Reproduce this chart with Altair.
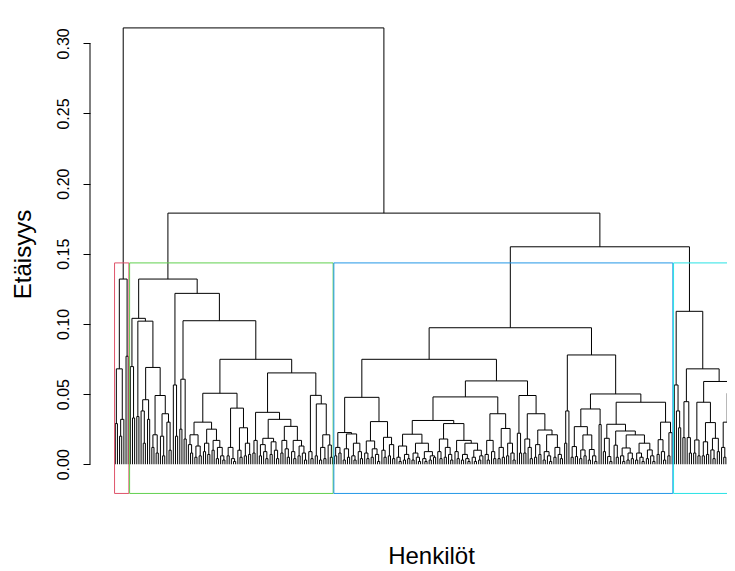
import sys
import altair as alt
import pandas as pd

sys.setrecursionlimit(10000)

# ---------------------------------------------------------------
# Data.
# A dendrogram with its leaves in drawing order is fully described by the
# merge height between every pair of neighbouring leaves (left -> right).
# ---------------------------------------------------------------
red_gaps = [0.029, 0.068, 0.020, 0.032, 0.132, 0.077]

green_gaps = [
    0.0696, 0.033, 0.104, 0.034, 0.102, 0.038, 0.015, 0.046, 0.032, 0.069,
    0.012, 0.021, 0.008, 0.049, 0.020, 0.006, 0.036, 0.030, 0.010,
    0.132,
    0.0565, 0.020,
    0.1218,
    0.025, 0.0606, 0.018,
    0.1023,
    0.014, 0.008, 0.021, 0.005, 0.013, 0.006,
    0.030,
    0.009, 0.015, 0.007, 0.025, 0.010, 0.017, 0.004, 0.012, 0.006, 0.003,
    0.0506,
    0.006, 0.012, 0.004, 0.002, 0.040, 0.010, 0.005, 0.026, 0.006, 0.015, 0.007,
    0.0748,
    0.008, 0.017,
    0.037,
    0.006, 0.014, 0.009, 0.004, 0.0185, 0.007, 0.016, 0.010, 0.004,
    0.032,
    0.008, 0.017, 0.011, 0.005, 0.027, 0.009, 0.004, 0.017, 0.006, 0.013, 0.008, 0.003,
    0.0651,
    0.009, 0.004, 0.0491, 0.006, 0.043, 0.003, 0.012, 0.004, 0.021, 0.0137, 0.005,
]

blue_gaps = [
    0.006, 0.012, 0.008,
    0.0226,
    0.003, 0.011, 0.005, 0.0216, 0.006, 0.003, 0.015, 0.009, 0.004,
    0.0477,
    0.008, 0.004, 0.0166, 0.005, 0.011, 0.007, 0.002,
    0.0304,
    0.010, 0.005, 0.0192, 0.006, 0.014, 0.004,
    0.0748,
    0.005, 0.002, 0.013, 0.003, 0.007, 0.004,
    0.0214,
    0.003, 0.008, 0.005, 0.002, 0.015, 0.004, 0.002, 0.009, 0.003, 0.006, 0.005,
    0.0312,
    0.009, 0.004, 0.018, 0.005, 0.012, 0.007, 0.003,
    0.029,
    0.009, 0.004,
    0.017,
    0.003, 0.007, 0.004, 0.002, 0.015, 0.005, 0.002, 0.010, 0.003, 0.006,
    0.048,
    0.007, 0.003, 0.017, 0.009, 0.004,
    0.036,
    0.004, 0.012, 0.005, 0.0255, 0.006, 0.015, 0.008, 0.003,
    0.0594,
    0.0221, 0.008,
    0.049,
    0.008, 0.018, 0.012, 0.004,
    0.036,
    0.005, 0.014, 0.007,
    0.0244,
    0.003, 0.009, 0.006, 0.002, 0.021, 0.005, 0.012, 0.007, 0.004,
    0.0973,
    0.015, 0.038,
    0.0779,
    0.005, 0.0126, 0.0055,
    0.0268,
    0.004, 0.0102, 0.006, 0.0209, 0.003, 0.0105, 0.006, 0.002,
    0.0394,
    0.0283,
    0.0501,
    0.009, 0.0185, 0.0055, 0.002,
    0.0285,
    0.0136, 0.005,
    0.0237,
    0.006, 0.002, 0.0116, 0.003, 0.008, 0.004,
    0.0209,
    0.003, 0.008, 0.005, 0.002, 0.015, 0.004, 0.0102, 0.006, 0.002,
    0.0442,
    0.007, 0.0175, 0.009, 0.003,
    0.030,
    0.006, 0.0225,
]

cyan_gaps = [
    0.0565, 0.038, 0.026,
    0.109,
    0.019, 0.0446, 0.019, 0.008,
    0.068,
    0.008, 0.0173, 0.006,
    0.0442,
    0.006, 0.016, 0.007,
    0.0297,
    0.0102, 0.004, 0.0185, 0.009,
    0.059,
    0.012, 0.005, 0.030, 0.007, 0.016, 0.006,
    0.0506,
    0.014, 0.006, 0.038, 0.008, 0.021,
]

# heights of the merges joining the four clusters
join_red_rest = 0.311
join_green_blue = 0.179
join_blue_cyan = 0.155

cluster_colors = ["#DF536B", "#61D04F", "#2297E6", "#28E2E5"]
y_ticks = [0.00, 0.05, 0.10, 0.15, 0.20, 0.25, 0.30]
x_title = "Henkilöt"
y_title = "Etäisyys"

# ---------------------------------------------------------------
# Build the dendrogram segments from the gap heights
# ---------------------------------------------------------------
gaps = (red_gaps + [join_red_rest] + green_gaps + [join_green_blue]
        + blue_gaps + [join_blue_cyan] + cyan_gaps)
n_leaves = len(gaps) + 1

segments = []


def build(lo, hi):
    if lo == hi:
        return float(lo), 0.0
    sub = gaps[lo:hi]
    k = lo + sub.index(max(sub))
    lx, lh = build(lo, k)
    rx, rh = build(k + 1, hi)
    h = gaps[k]
    segments.append({"x": lx, "x2": rx, "y": h, "y2": h})
    segments.append({"x": lx, "x2": lx, "y": lh, "y2": h})
    segments.append({"x": rx, "x2": rx, "y": rh, "y2": h})
    return (lx + rx) / 2.0, h


build(0, n_leaves - 1)
seg_df = pd.DataFrame(segments)

# cluster boxes (as rect.hclust: k = 4)
sizes = [len(red_gaps) + 1, len(green_gaps) + 1, len(blue_gaps) + 1, len(cyan_gaps) + 1]
top4 = sorted(gaps, reverse=True)
cut = (top4[2] + top4[3]) / 2.0

# layout of the plotting region (R style)
leaf_px = 2.15
plot_w = 637
plot_h = 471
x_lo = -0.04 * (n_leaves - 1)
x_hi = x_lo + plot_w / leaf_px
y_lo = -0.0212
y_hi = 0.3145

rows = []
start = 0
for size, col in zip(sizes, cluster_colors):
    end = start + size - 1
    rows.append({"x": start - 0.34, "x2": end + 0.33, "y": y_lo + 0.0004,
                 "y2": cut, "col": col})
    start = end + 1
rect_df = pd.DataFrame(rows)

axis_df = pd.DataFrame({"y": [y_ticks[0]], "y2": [y_ticks[-1]]})

FONT = "Liberation Sans"

x_enc = alt.X(
    "x:Q",
    scale=alt.Scale(domain=[x_lo, x_hi], nice=False, zero=False),
    axis=alt.Axis(
        title=x_title, labels=False, ticks=False, domain=False, grid=False,
        titleFont=FONT, titleFontSize=24, titleFontWeight="normal",
        titleColor="#000000", titleBaseline="alphabetic", titleAlign="center",
        titleX=341, titleY=69,
    ),
)
y_enc = alt.Y(
    "y:Q",
    scale=alt.Scale(domain=[y_lo, y_hi], nice=False, zero=False),
    axis=alt.Axis(
        title=y_title, values=y_ticks, format=".2f", grid=False, domain=False,
        tickSize=7, tickColor="#000000", tickWidth=1,
        labelFont=FONT, labelFontSize=16, labelColor="#000000",
        labelAngle=270, labelAlign="center", labelBaseline="alphabetic",
        labelPadding=15,
        titleFont=FONT, titleFontSize=24, titleFontWeight="normal",
        titleColor="#000000", titleAngle=270, titleBaseline="alphabetic",
        titleAlign="center", titleX=-60, titleY=231,
    ),
)

dendro = alt.Chart(seg_df).mark_rule(color="#000000", strokeWidth=1, clip=True).encode(
    x=x_enc, x2="x2:Q", y=y_enc, y2="y2:Q"
)

boxes = alt.Chart(rect_df).mark_rect(fillOpacity=0, strokeWidth=1, clip=True).encode(
    x="x:Q", x2="x2:Q", y="y:Q", y2="y2:Q",
    stroke=alt.Stroke("col:N", scale=None, legend=None),
)

axis_line = alt.Chart(axis_df).mark_rule(color="#000000", strokeWidth=1).encode(
    x=alt.value(0), y="y:Q", y2="y2:Q"
)

chart = alt.layer(dendro, boxes, axis_line).properties(
    width=plot_w,
    height=plot_h,
    autosize=alt.AutoSizeParams(type="none"),
    padding={"left": 82, "top": 15, "right": 0, "bottom": 76},
    background="#ffffff",
).configure_view(strokeWidth=0)

chart.save("out.html", embed_options={"renderer": "svg", "actions": False})
